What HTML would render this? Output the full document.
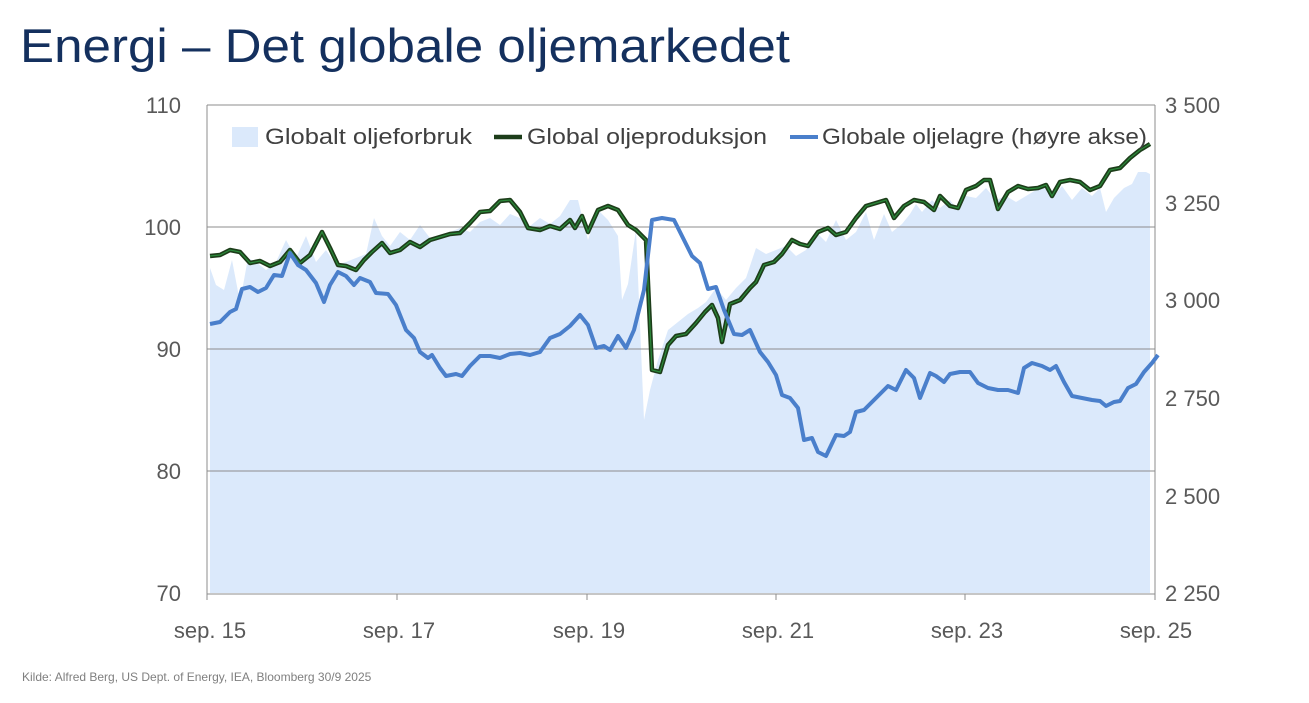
<!DOCTYPE html>
<html><head><meta charset="utf-8"><style>
body{margin:0;background:#fff;width:1309px;height:698px;overflow:hidden;font-family:"Liberation Sans",sans-serif}
</style></head><body>
<svg width="1309" height="698" viewBox="0 0 1309 698" xmlns="http://www.w3.org/2000/svg" font-family="Liberation Sans, sans-serif">
<text x="20" y="62" font-size="47" fill="#14305e" textLength="770" lengthAdjust="spacingAndGlyphs">Energi – Det globale oljemarkedet</text>
<polygon fill="#dbe9fb" points="210,593 210,268 216,285 224,290 232,260 240,302 248,258 256,262 266,270 276,262 286,240 296,258 306,236 316,262 326,250 336,265 346,262 356,258 366,254 374,218 382,236 390,246 400,232 410,240 420,225 430,238 440,236 450,232 460,228 470,232 480,222 490,218 500,225 510,214 520,218 530,226 540,218 550,224 560,216 570,200 578,200 588,240 598,210 608,220 618,236 622,300 628,284 636,230 644,420 650,390 658,360 668,330 678,322 688,314 698,308 706,302 716,288 726,300 736,288 746,278 756,248 766,254 776,250 786,246 796,256 806,250 816,232 826,242 836,220 846,240 856,232 866,212 874,240 884,214 892,232 902,224 910,214 916,204 922,212 932,200 940,208 950,200 958,210 966,196 976,198 986,188 996,200 1006,196 1016,202 1026,196 1036,190 1046,186 1054,196 1062,186 1072,200 1082,188 1092,196 1100,188 1106,212 1114,198 1124,188 1132,184 1138,172 1146,172 1150,174 1150,593"/>
<g stroke="#8c8c8c" stroke-width="1">
<line x1="207" y1="105" x2="1155" y2="105"/>
<line x1="207" y1="227" x2="1155" y2="227"/>
<line x1="207" y1="349" x2="1155" y2="349"/>
<line x1="207" y1="471" x2="1155" y2="471"/>
<line x1="207" y1="105" x2="207" y2="594"/>
<line x1="1155" y1="105" x2="1155" y2="594"/>
<line x1="207" y1="594" x2="1155" y2="594"/>
<line x1="397" y1="594" x2="397" y2="600"/><line x1="587" y1="594" x2="587" y2="600"/><line x1="776" y1="594" x2="776" y2="600"/><line x1="965" y1="594" x2="965" y2="600"/><line x1="1155" y1="594" x2="1155" y2="600"/><line x1="207" y1="594" x2="207" y2="600"/>
</g>
<g font-size="22" fill="#595959" text-anchor="end">
<text x="181" y="113">110</text><text x="181" y="235">100</text><text x="181" y="357">90</text><text x="181" y="479">80</text><text x="181" y="601">70</text>
</g>
<g font-size="22" fill="#595959">
<text x="1165" y="113">3 500</text><text x="1165" y="211">3 250</text><text x="1165" y="308">3 000</text><text x="1165" y="406">2 750</text><text x="1165" y="504">2 500</text><text x="1165" y="601">2 250</text>
</g>
<g font-size="22" fill="#595959" text-anchor="middle">
<text x="210" y="638">sep. 15</text><text x="399" y="638">sep. 17</text><text x="589" y="638">sep. 19</text><text x="778" y="638">sep. 21</text><text x="967" y="638">sep. 23</text><text x="1156" y="638">sep. 25</text>
</g>
<polyline fill="none" stroke="#1d3d1a" stroke-width="4.5" stroke-linejoin="round" points="210,256 220,255 230,250 240,252 250,263 260,261 270,266 280,262 290,250 300,263 310,255 322,232 330,248 338,265 346,266 356,270 364,260 372,252 382,243 390,253 400,250 410,242 420,247 430,240 440,237 450,234 460,233 470,223 480,212 490,211 500,201 510,200 520,212 528,228 540,230 550,226 560,229 570,220 575,228 582,216 588,232 598,210 608,206 618,210 628,225 636,230 646,240 652,370 660,372 668,345 676,336 686,334 696,323 705,312 712,305 718,318 722,342 730,304 740,300 750,288 756,282 764,265 774,262 782,254 792,240 800,244 808,246 818,232 828,228 836,235 846,232 856,218 866,206 876,203 886,200 894,218 904,206 914,200 924,202 934,210 940,196 950,206 958,208 966,190 976,186 984,180 990,180 998,209 1008,192 1018,186 1028,189 1038,188 1046,185 1052,196 1060,182 1070,180 1080,182 1090,190 1100,186 1110,170 1120,168 1130,158 1140,150 1150,144"/>
<polyline fill="none" stroke="#2b8a3a" stroke-width="1.2" points="210,256 220,255 230,250 240,252 250,263 260,261 270,266 280,262 290,250 300,263 310,255 322,232 330,248 338,265 346,266 356,270 364,260 372,252 382,243 390,253 400,250 410,242 420,247 430,240 440,237 450,234 460,233 470,223 480,212 490,211 500,201 510,200 520,212 528,228 540,230 550,226 560,229 570,220 575,228 582,216 588,232 598,210 608,206 618,210 628,225 636,230 646,240 652,370 660,372 668,345 676,336 686,334 696,323 705,312 712,305 718,318 722,342 730,304 740,300 750,288 756,282 764,265 774,262 782,254 792,240 800,244 808,246 818,232 828,228 836,235 846,232 856,218 866,206 876,203 886,200 894,218 904,206 914,200 924,202 934,210 940,196 950,206 958,208 966,190 976,186 984,180 990,180 998,209 1008,192 1018,186 1028,189 1038,188 1046,185 1052,196 1060,182 1070,180 1080,182 1090,190 1100,186 1110,170 1120,168 1130,158 1140,150 1150,144"/>
<polyline fill="none" stroke="#4a7fcb" stroke-width="4" stroke-linejoin="round" points="210,324 220,322 230,312 236,309 242,289 250,287 258,292 266,288 274,275 282,276 290,253 298,265 306,270 316,283 324,302 330,285 338,272 346,276 354,285 360,278 370,282 376,293 388,294 396,305 406,330 414,338 420,352 428,358 432,355 440,368 446,376 456,374 462,376 470,366 480,356 490,356 500,358 510,354 520,353 530,355 540,352 550,338 560,334 570,326 580,315 588,325 596,348 604,346 610,350 618,336 626,348 634,330 644,290 652,220 662,218 674,220 684,240 692,256 700,263 708,289 716,287 724,310 734,334 742,335 750,330 760,352 768,362 776,375 782,395 790,398 798,408 804,440 812,438 818,452 826,456 836,435 844,436 850,432 856,412 864,410 876,398 888,386 896,390 906,370 914,378 920,398 930,373 936,376 944,382 950,374 960,372 970,372 978,383 988,388 998,390 1008,390 1018,393 1024,368 1032,363 1042,366 1050,370 1056,366 1064,382 1072,396 1082,398 1092,400 1100,401 1106,406 1114,402 1120,401 1128,388 1136,384 1144,372 1152,363 1158,355"/>
<rect x="232" y="127" width="26" height="20" fill="#dbe9fb"/>
<text x="265" y="144" font-size="22" fill="#404040" textLength="207" lengthAdjust="spacingAndGlyphs">Globalt oljeforbruk</text>
<line x1="494" y1="137" x2="522" y2="137" stroke="#1d3d1a" stroke-width="4.5"/>
<text x="527" y="144" font-size="22" fill="#404040" textLength="240" lengthAdjust="spacingAndGlyphs">Global oljeproduksjon</text>
<line x1="790" y1="137" x2="818" y2="137" stroke="#4a7fcb" stroke-width="4"/>
<text x="822" y="144" font-size="22" fill="#404040" textLength="325" lengthAdjust="spacingAndGlyphs">Globale oljelagre (høyre akse)</text>
<text x="22" y="681" font-size="12" fill="#7f7f7f">Kilde: Alfred Berg, US Dept. of Energy, IEA, Bloomberg 30/9 2025</text>
</svg>
</body></html>
